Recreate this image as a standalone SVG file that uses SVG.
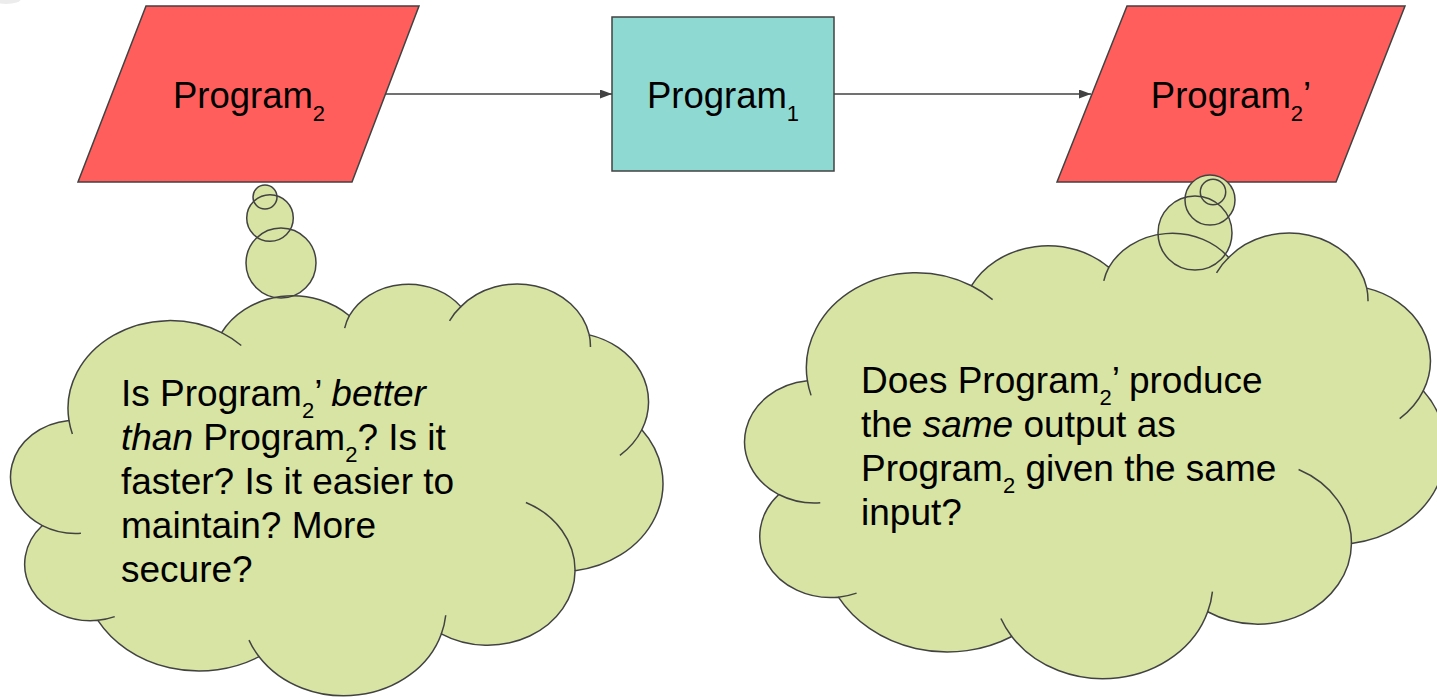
<svg xmlns="http://www.w3.org/2000/svg" xmlns:xlink="http://www.w3.org/1999/xlink" width="1437" height="697" viewBox="0 0 1437 697">
  <style>
    .label { font-family: "Liberation Sans", Arial, sans-serif; font-size: 36.5px; fill: #000; text-anchor: middle; }
    .thought { font-family: "Liberation Sans", Arial, sans-serif; font-size: 37px; fill: #000; }
    .sub { font-size: 22px; }
    .em { font-style: italic; }
    .io { fill: #ff5e5c; stroke: #424242; stroke-width: 1.5; }
    .proc { fill: #8fd9d3; stroke: #424242; stroke-width: 1.5; }
    .bubble-fill { fill: #d7e4a3; stroke: none; }
    .bubble-line { fill: none; stroke: #424242; stroke-width: 1.5; }
    .conn { fill: none; stroke: #424242; stroke-width: 1.3; }
  </style>
  <defs>
    <marker id="arrow" markerUnits="userSpaceOnUse" markerWidth="13" markerHeight="10" refX="12" refY="4.5" orient="auto">
      <path d="M0,0 L12,4.5 L0,9 Z" fill="#424242"/>
    </marker>
    <!-- cloud outline drawn in a 43200 x 43200 unit box -->
    <path id="cloud-body" vector-effect="non-scaling-stroke" d="M3900,14370 A6753,9190 0 0 1 14000,5192 A5333,7267 0 0 1 22451,3422 A4365,5945 0 0 1 29828,2471 A4857,6595 0 0 1 38324,5426 A5333,7273 0 0 1 41798,15354 A6775,9220 0 0 1 37382,30094 A5785,7867 0 0 1 28534,36704 A6752,9215 0 0 1 16478,39090 A7720,10543 0 0 1 5811,35288 A4360,5918 0 0 1 2140,25373 A4345,5945 0 0 1 3900,14370 Z"/>
    <!-- inner fold arcs of the cloud -->
    <path id="cloud-folds" vector-effect="non-scaling-stroke" d="M4693,26177 A4345,5945 0 0 1 2140,25373 M6928,34899 A4360,5918 0 0 1 5811,35288 M16478,39090 A6752,9215 0 0 1 15810,37350 M28827,34751 A6752,9215 0 0 1 28534,36704 M34129,22954 A5785,7867 0 0 1 37382,30094 M41798,15354 A5333,7273 0 0 1 40350,18030 M38324,5426 A4857,6595 0 0 1 38400,6690 M29078,3952 A4857,6595 0 0 1 29828,2471 M22141,4720 A4365,5945 0 0 1 22451,3422 M14000,5192 A6753,9190 0 0 1 15300,6540 M4127,15789 A6753,9190 0 0 1 3900,14370"/>
  </defs>

  <rect width="1437" height="697" fill="#ffffff"/>
  <ellipse cx="6" cy="-1" rx="15" ry="5" fill="#ececec"/>

  <!-- connectors -->
  <g id="connectors">
    <line class="conn" x1="386" y1="94" x2="612" y2="94" marker-end="url(#arrow)"/>
    <line class="conn" x1="834" y1="94" x2="1091" y2="94" marker-end="url(#arrow)"/>
  </g>

  <g id="program2">
    <polygon class="io" points="146,6 419,6 352,182 78,182"/>
    <text class="label" x="249" y="108">Program<tspan class="sub" dy="13">2</tspan></text>
  </g>

  <g id="program1">
    <rect class="proc" x="612" y="17" width="222" height="154"/>
    <text class="label" x="723" y="108">Program<tspan class="sub" dy="13">1</tspan></text>
  </g>

  <g id="program2-prime">
    <polygon class="io" points="1127,6 1405,6 1336,182 1057,182"/>
    <text class="label" x="1231" y="108">Program<tspan class="sub" dy="13">2</tspan><tspan dy="-13">’</tspan></text>
  </g>

  <g id="thought-quality">
    <use xlink:href="#cloud-body" class="bubble-fill" transform="translate(10,283) scale(0.0151157,0.0095602)"/>
    <circle class="bubble-fill" cx="265" cy="197" r="12"/>
    <circle class="bubble-fill" cx="270" cy="218" r="23.3"/>
    <circle class="bubble-fill" cx="281" cy="263" r="35"/>
    <use xlink:href="#cloud-body" class="bubble-line" transform="translate(10,283) scale(0.0151157,0.0095602)"/>
    <use xlink:href="#cloud-folds" class="bubble-line" transform="translate(10,283) scale(0.0151157,0.0095602)"/>
    <circle class="bubble-line" cx="265" cy="197" r="12"/>
    <circle class="bubble-line" cx="270" cy="218" r="23.3"/>
    <circle class="bubble-line" cx="281" cy="263" r="35"/>
    <text class="thought">
      <tspan x="121" y="406">Is Program<tspan class="sub" dy="12">2</tspan><tspan dy="-12">’ </tspan><tspan class="em">better</tspan></tspan>
      <tspan x="121" y="450"><tspan class="em">than</tspan> Program<tspan class="sub" dy="12">2</tspan><tspan dy="-12">? Is it</tspan></tspan>
      <tspan x="121" y="494">faster? Is it easier to</tspan>
      <tspan x="121" y="538">maintain? More</tspan>
      <tspan x="121" y="582">secure?</tspan>
    </text>
  </g>

  <g id="thought-equivalence">
    <use xlink:href="#cloud-body" class="bubble-fill" transform="translate(744,232) scale(0.01625,0.0103472)"/>
    <circle class="bubble-fill" cx="1195" cy="233" r="37"/>
    <circle class="bubble-fill" cx="1210" cy="200" r="25"/>
    <circle class="bubble-fill" cx="1213" cy="192" r="12.7"/>
    <use xlink:href="#cloud-body" class="bubble-line" transform="translate(744,232) scale(0.01625,0.0103472)"/>
    <use xlink:href="#cloud-folds" class="bubble-line" transform="translate(744,232) scale(0.01625,0.0103472)"/>
    <circle class="bubble-line" cx="1195" cy="233" r="37"/>
    <circle class="bubble-line" cx="1210" cy="200" r="25"/>
    <circle class="bubble-line" cx="1213" cy="192" r="12.7"/>
    <text class="thought">
      <tspan x="861" y="393">Does Program<tspan class="sub" dy="12">2</tspan><tspan dy="-12">’ produce</tspan></tspan>
      <tspan x="861" y="437">the <tspan class="em">same</tspan> output as</tspan>
      <tspan x="861" y="481">Program<tspan class="sub" dy="12">2</tspan><tspan dy="-12"> given the same</tspan></tspan>
      <tspan x="861" y="525">input?</tspan>
    </text>
  </g>
</svg>
